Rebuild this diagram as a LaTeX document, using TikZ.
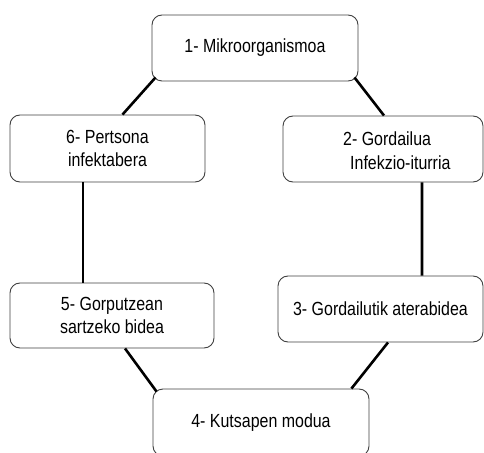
\documentclass[tikz,border=0pt]{standalone}
\usepackage{fontspec}
\usepackage{graphicx}
\setmainfont{Liberation Sans}
\usetikzlibrary{calc}
% slightly condensed lettering
\newcommand{\cnd}[1]{\scalebox{0.84}[1]{#1}}
\begin{document}
\begin{tikzpicture}[x=1bp,y=-1bp,
  stage/.style={draw=black!75, line width=0.9bp, rounded corners=10bp, fill=white,
    inner sep=0pt, align=center, font=\fontsize{19bp}{23bp}\selectfont},
  link/.style={line width=2.6bp, black}]
\useasboundingbox (0,0) rectangle (484,453);
\clip (0,0) rectangle (484,453);

% the six stages of the infection chain
\node[stage, minimum width=206bp, minimum height=66bp] (b1) at (255,48) {\cnd{1- Mikroorganismoa}};
\node[stage, minimum width=200bp, minimum height=66bp] (b2) at (383,149) {};
\node[anchor=west, inner sep=0pt, align=left, font=\fontsize{19bp}{24bp}\selectfont] (t2) at (343,151)
  {\cnd{2- Gordailua}\\\hspace*{7bp}\cnd{Infekzio-iturria}};
\node[stage, minimum width=205bp, minimum height=66bp] (b3) at (380.5,309) {\cnd{3- Gordailutik aterabidea}};
\node[stage, minimum width=216bp, minimum height=67bp] (b4) at (261,422.5) {\cnd{4- Kutsapen modua}};
\node[stage, minimum width=204bp, minimum height=65bp] (b5) at (112,315.5) {\cnd{5- Gorputzean}\\\cnd{sartzeko bidea}};
\node[stage, minimum width=195bp, minimum height=67bp] (b6) at (107.5,148.5) {\cnd{6- Pertsona}\\\cnd{infektabera}};

% connectors closing the ring
\draw[link] ($(b1.south west)+(4,-4)$) -- ($(b6.north)+(15,0)$);
\draw[link] ($(b1.south east)+(-4,-4)$) -- ($(b2.north)+(1,0)$);
\draw[link] ($(b6.south)+(-24.5,0)$) -- ($(b5.north)+(-29,0)$);
\draw[link] ($(b2.south)+(39,0)$) -- ($(b3.north)+(41.5,0)$);
\draw[link] ($(b5.south)+(13,0)$) -- ($(b4.north west)+(4,3)$);
\draw[link] ($(b3.south)+(7.5,0)$) -- ($(b4.north east)+(-18,0)$);
\end{tikzpicture}
\end{document}
